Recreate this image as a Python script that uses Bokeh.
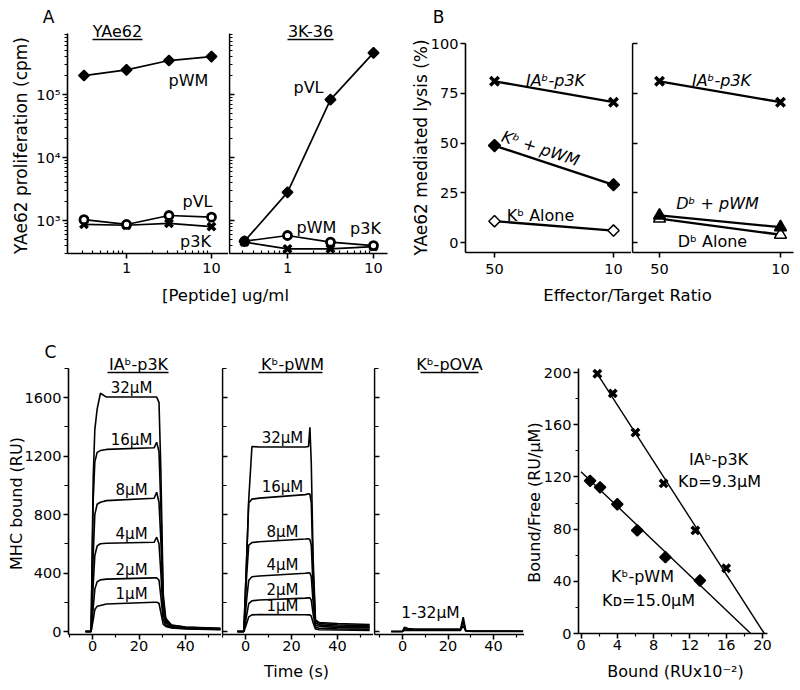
import math
from bokeh.plotting import figure
from bokeh.layouts import row, column
from bokeh.models import Range1d, FixedTicker, Label, LinearScale
from bokeh.embed import file_html
from bokeh.resources import INLINE

FONT = "DejaVu Sans"

# ---------------- Panel A : proliferation ----------------
pep_conc = [0.316, 1.0, 3.16, 10.0]
yae62_pwm = [2.0e5, 2.46e5, 3.46e5, 4.0e5]
yae62_pvl = [1030, 865, 1200, 1130]
yae62_p3k = [870, 840, 900, 800]
k336_pvl = [468, 2800, 8.3e4, 4.58e5]
k336_pwm = [468, 578, 453, 400]
k336_p3k = [453, 355, 355, 386]
a_yticks = [1e3, 1e4, 1e5]
a_ytick_labels = ["10³", "10⁴", "10⁵"]
a_xticks = [1, 10]
a_xtick_labels = ["1", "10"]

# ---------------- Panel B : lysis ----------------
et_ratios = ["50", "10"]
kb_ia_p3k = [81, 70.5]
kb_pwm = [48.7, 29]
kb_alone = [10.7, 6]
db_ia_p3k = [81, 70.5]
db_pwm = [13.6, 7.7]
db_alone = [12, 3.9]
b_yticks = [0, 25, 50, 75, 100]

# ---------------- Panel C : sensorgrams ----------------
conc_labels = ["32µM", "16µM", "8µM", "4µM", "2µM", "1µM"]
ia_time = [-3, -0.6, 0.3, 1, 2, 3.4, 6, 26.5, 27.6, 28.6, 29.4, 30.4, 31.5, 34, 40, 55]
ia_ru = [
    [0, 0, 1050, 1380, 1520, 1629, 1603, 1603, 1603, 1567, 1100, 260, 90, 45, 30, 22],
    [0, 0, 900, 1160, 1225, 1237, 1245, 1256, 1294, 1230, 850, 220, 80, 42, 28, 20],
    [0, 0, 520, 800, 870, 884, 895, 911, 952, 884, 620, 170, 70, 38, 25, 18],
    [0, 0, 320, 520, 585, 600, 603, 610, 645, 600, 400, 120, 60, 33, 22, 16],
    [0, 0, 160, 290, 340, 353, 358, 367, 367, 352, 240, 80, 45, 28, 20, 14],
    [0, 0, 80, 150, 172, 178, 188, 200, 200, 193, 130, 50, 35, 24, 17, 12],
]
ia_label_t = 16.8
ia_label_ru = [1603, 1250, 903, 605, 362, 195]

kb_time = [-3.5, -0.7, 0.5, 1.4, 2.8, 6, 26, 27.4, 28.0, 28.6, 29.4, 30.4, 32, 40, 54]
kb_ru = [
    [0, 0, 500, 900, 1265, 1262, 1262, 1265, 1397, 1150, 500, 80, 62, 55, 48],
    [0, 0, 500, 880, 905, 912, 936, 942, 940, 880, 420, 75, 55, 45, 40],
    [0, 0, 380, 590, 608, 614, 632, 634, 630, 590, 300, 60, 45, 36, 32],
    [0, 0, 220, 350, 374, 380, 398, 401, 400, 375, 200, 45, 35, 28, 25],
    [0, 0, 110, 190, 210, 215, 228, 230, 230, 215, 120, 30, 22, 18, 15],
    [0, 0, 55, 100, 114, 116, 115, 114, 114, 105, 60, 18, 12, 10, 8],
]
kb_label_t = 16.1
kb_label_ru = [1262, 925, 622, 390, 222, 116]

ova_time = [-5, 0, 0.8, 2.5, 5, 25.5, 26.7, 27.8, 31, 53]
ova_ru = [
    [0, 0, 29, 20, 16, 16, 98, 6, 3, 2],
    [0, 0, 18, 13, 11, 12, 70, 5, 2, 2],
    [0, 0, 8, 7, 7, 8, 40, 3, 1, 1],
]
c_yticks = [0, 400, 800, 1200, 1600]
c_yminor = [200, 600, 1000, 1400, 1800]
c_xticks = [0, 20, 40]
c_xminor = [-10, 10, 30, 50]

# ---------------- Scatchard ----------------
ia_bound = [1.8, 3.5, 6.0, 9.1, 12.6, 16.0]
ia_bf = [199, 184, 154, 115, 79, 50]
ia_fit_x = [1.8, 20.2]
ia_fit_y = [199, 0]
kbw_bound = [1.0, 2.1, 4.0, 6.2, 9.3, 13.1]
kbw_bf = [117, 112, 99, 79, 58.5, 40.6]
kbw_fit_x = [0, 18.7]
kbw_fit_y = [124, 0]
s_yticks = [0, 40, 80, 120, 160, 200]
s_yminor = [20, 60, 100, 140, 180]
s_xticks = [0, 4, 8, 12, 16, 20]
s_xminor = [2, 6, 10, 14, 18]


# ---------------- helpers ----------------
def lin(pa, va, pb, vb):
    k = (vb - va) / (pb - pa)
    return lambda p: va + (p - pa) * k


def logm(pa, va, pb, vb):
    f = lin(pa, math.log10(va), pb, math.log10(vb))
    return lambda p: 10 ** f(p)


def base_fig(x0, x1, y0, y1, xm, ym, xlog=False, ylog=False):
    """Canvas spans page pixels x0..x1, y0..y1 (top..bottom); frame = canvas."""
    p = figure(width=x1 - x0, height=y1 - y0,
               x_range=Range1d(xm(x0), xm(x1)), y_range=Range1d(ym(y1), ym(y0)),
               x_axis_type="log" if xlog else "linear",
               y_axis_type="log" if ylog else "linear",
               toolbar_location=None, output_backend="svg",
               min_border=0, min_border_left=0, min_border_right=0,
               min_border_top=0, min_border_bottom=0)
    p.extra_x_ranges = {"px": Range1d(x0, x1)}
    p.extra_y_ranges = {"px": Range1d(y1, y0)}
    p.extra_x_scales = {"px": LinearScale()}
    p.extra_y_scales = {"px": LinearScale()}
    p.outline_line_color = None
    p.xgrid.visible = False
    p.ygrid.visible = False
    p.background_fill_color = "white"
    p.border_fill_color = "white"
    return p


def style_axis(ax, ticks, minor=(), overrides=None, inward=False, standoff=3,
               bounds=None, minor_inward=False, tick_len=5, minor_len=3, loc=None):
    ax.ticker = FixedTicker(ticks=list(ticks), minor_ticks=list(minor))
    ax.axis_line_color = "black"
    ax.axis_line_width = 1.6
    ax.major_tick_line_color = "black"
    ax.major_tick_line_width = 1.6
    ax.minor_tick_line_color = "black"
    ax.minor_tick_line_width = 1.2
    if inward:
        ax.major_tick_in = tick_len
        ax.major_tick_out = 0
        ax.minor_tick_in = minor_len
        ax.minor_tick_out = 0
        ax.major_label_text_font_size = "0px"
        ax.major_label_standoff = 0
        ax.major_label_overrides = {t: "" for t in ticks}
    else:
        ax.major_tick_in = 0
        ax.major_tick_out = tick_len
        if minor_inward:
            ax.minor_tick_in = minor_len
            ax.minor_tick_out = 0
        else:
            ax.minor_tick_in = 0
            ax.minor_tick_out = minor_len
        ax.major_label_text_font = FONT
        ax.major_label_text_font_size = "14.5px"
        ax.major_label_text_color = "black"
        ax.major_label_standoff = standoff
        if overrides:
            ax.major_label_overrides = overrides
    if bounds is not None:
        ax.bounds = bounds
    if loc is not None:
        ax.fixed_location = loc


def txt(p, x, y, s, size=16, angle=0.0, italic=False, align="center",
        baseline="middle", px=True):
    kw = dict(x_range_name="px", y_range_name="px") if px else {}
    p.add_layout(Label(x=x, y=y, text=s, text_font=FONT,
                       text_font_size=f"{size}px", text_align=align,
                       text_baseline=baseline, angle=angle,
                       text_font_style="italic" if italic else "normal",
                       text_color="black", **kw))


def underline(p, x0, x1, y):
    p.segment(x0=[x0], y0=[y], x1=[x1], y1=[y], x_range_name="px",
              y_range_name="px", line_color="black", line_width=1.3)


def diamonds(p, x, y, size=7.5, fill="black"):
    p.scatter(x, y, marker="square", size=size, angle=math.pi / 4,
              fill_color=fill, line_color="black", line_width=1.5)


def crosses(p, x, y, size=11):
    p.scatter(x, y, marker="x", size=size, line_color="black", line_width=3.5)


def rings(p, x, y, size=8):
    p.scatter(x, y, marker="circle", size=size, fill_color="white",
              line_color="black", line_width=2.8)


def tris(p, x, y, size=12, fill="black"):
    p.scatter(x, y, marker="triangle", size=size, fill_color=fill,
              line_color="black", line_width=1.5)


LW = 1.7
all_log_minor = [m * 10 ** e for e in range(2, 6) for m in range(2, 10)]

# ================= Panel A =================
ay = logm(220, 1e3, 94, 1e5)
a1x = logm(126, 1, 211, 10)
a2x = logm(287, 1, 373, 10)
a_ybounds = (ay(253), ay(33))
a_yminor = [v for v in all_log_minor if a_ybounds[0] <= v <= a_ybounds[1]]
a_xminor = [m * 10 ** e for e in (-1, 0) for m in range(2, 10)]

fA1 = base_fig(0, 228, 0, 282, a1x, ay, xlog=True, ylog=True)
fA2 = base_fig(228, 390, 0, 282, a2x, ay, xlog=True, ylog=True)
for f, xm, xa, xb in ((fA1, a1x, 67, 228), (fA2, a2x, 229, 387)):
    style_axis(f.xaxis[0], a_xticks, [v for v in a_xminor if xm(xa) <= v <= xm(xb)],
               overrides=dict(zip(a_xticks, a_xtick_labels)), standoff=4,
               minor_inward=True, bounds=(xm(xa), xm(xb)), loc=ay(253))
style_axis(fA1.yaxis[0], a_yticks, a_yminor,
           overrides=dict(zip(a_yticks, a_ytick_labels)), standoff=2,
           bounds=a_ybounds, loc=a1x(67))
style_axis(fA2.yaxis[0], a_yticks, a_yminor, inward=True, bounds=a_ybounds,
           loc=a2x(229))

for ys in (yae62_pwm, yae62_pvl, yae62_p3k):
    fA1.line(pep_conc, ys, line_color="black", line_width=LW)
crosses(fA1, pep_conc, yae62_p3k, size=10.5)
rings(fA1, pep_conc, yae62_pvl)
diamonds(fA1, pep_conc, yae62_pwm)

for ys in (k336_pvl, k336_pwm, k336_p3k):
    fA2.line(pep_conc, ys, line_color="black", line_width=LW)
crosses(fA2, pep_conc, k336_p3k, size=10.5)
rings(fA2, pep_conc, k336_pwm)
diamonds(fA2, pep_conc, k336_pvl)

txt(fA1, 48, 16, "A", size=17)
txt(fA1, 117, 31, "YAe62", size=16)
underline(fA1, 92, 142, 39)
txt(fA1, 20, 145, "YAe62 proliferation (cpm)", size=17, angle=math.pi / 2)
txt(fA1, 188, 80, "pWM")
txt(fA1, 197, 201, "pVL")
txt(fA1, 195, 241, "p3K")
txt(fA2, 310, 31, "3K-36", size=16)
underline(fA2, 287, 333, 39)
txt(fA2, 308, 87, "pVL")
txt(fA2, 316, 227, "pWM")
txt(fA2, 365, 228, "p3K")

# ================= Panel B =================
by = lin(242, 0, 43, 100)
b1x = lin(494, 0, 613, 1)
b2x = lin(659, 0, 780, 1)
b_ybounds = (by(252), 100)
b_pos = list(range(len(et_ratios)))

fB1 = base_fig(390, 631, 0, 282, b1x, by)
fB2 = base_fig(631, 800, 0, 282, b2x, by)
for f, xm, xa, xb in ((fB1, b1x, 465, 631), (fB2, b2x, 632, 793)):
    style_axis(f.xaxis[0], b_pos, overrides=dict(zip(b_pos, et_ratios)), standoff=6,
               bounds=(xm(xa), xm(xb)), loc=by(252))
style_axis(fB1.yaxis[0], b_yticks, standoff=2, bounds=b_ybounds, loc=b1x(465))
style_axis(fB2.yaxis[0], b_yticks, inward=True, bounds=b_ybounds, loc=b2x(632))

BLW = 2.3
for ys in (kb_ia_p3k, kb_pwm, kb_alone):
    fB1.line(b_pos, ys, line_color="black", line_width=BLW)
crosses(fB1, b_pos, kb_ia_p3k, size=12)
diamonds(fB1, b_pos, kb_pwm, size=8.5)
diamonds(fB1, b_pos, kb_alone, size=8, fill="white")

for ys in (db_ia_p3k, db_alone, db_pwm):
    fB2.line(b_pos, ys, line_color="black", line_width=BLW)
crosses(fB2, b_pos, db_ia_p3k, size=12)
tris(fB2, b_pos, db_alone, fill="white")
tris(fB2, b_pos, db_pwm)

txt(fB1, 438, 16, "B", size=17)
txt(fB1, 420, 147, "YAe62 mediated lysis (%)", size=17, angle=math.pi / 2)
txt(fB1, 555, 80, "IAᵇ-p3K", italic=True)
txt(fB1, 540, 148, "Kᵇ + pWM", italic=True, angle=-0.32)
txt(fB1, 540, 215, "Kᵇ Alone")
txt(fB2, 721, 80, "IAᵇ-p3K", italic=True)
txt(fB2, 717, 203, "Dᵇ + pWM", italic=True)
txt(fB2, 712, 241, "Dᵇ Alone")

# ================= strip with shared x labels =================
strip = figure(width=800, height=28, x_range=Range1d(0, 800), y_range=Range1d(310, 282),
               toolbar_location=None, output_backend="svg", min_border=0,
               x_axis_location=None, y_axis_location=None)
strip.outline_line_color = None
strip.xgrid.visible = False
strip.ygrid.visible = False
for lab, xc in (("[Peptide] ug/ml", 225), ("Effector/Target Ratio", 627)):
    strip.add_layout(Label(x=xc, y=295, text=lab, text_font=FONT, text_font_size="16.5px",
                           text_align="center", text_baseline="middle", text_color="black"))

# ================= Panel C =================
cy = lin(631, 0, 397, 1600)
c1x = lin(92, 0, 185, 40)
c2x = lin(245, 0, 337, 40)
c3x = lin(402, 0, 493, 40)
c_ybounds = (cy(634), cy(368))

fC1 = base_fig(0, 221, 310, 690, c1x, cy)
fC2 = base_fig(221, 373, 310, 690, c2x, cy)
fC3 = base_fig(373, 524, 310, 690, c3x, cy)
for f, xm, xa, xb in ((fC1, c1x, 68, 221), (fC2, c2x, 222, 373), (fC3, c3x, 374, 525)):
    style_axis(f.xaxis[0], c_xticks, c_xminor, standoff=1, bounds=(xm(xa), xm(xb)),
               loc=cy(634))
style_axis(fC1.yaxis[0], c_yticks, c_yminor, standoff=2, bounds=c_ybounds, minor_len=4,
           loc=c1x(68))
style_axis(fC2.yaxis[0], c_yticks, c_yminor, inward=True, bounds=c_ybounds, minor_len=4,
           loc=c2x(222))
style_axis(fC3.yaxis[0], c_yticks, c_yminor, inward=True, bounds=c_ybounds, minor_len=4,
           loc=c3x(374))

CLW = 1.6
for ys in ia_ru:
    fC1.line(ia_time, ys, line_color="black", line_width=CLW)
for ys in kb_ru:
    fC2.line(kb_time, ys, line_color="black", line_width=CLW)
for ys in ova_ru:
    fC3.line(ova_time, ys, line_color="black", line_width=CLW)

for lab, yv in zip(conc_labels, ia_label_ru):
    txt(fC1, ia_label_t, yv, lab, size=15, baseline="bottom", px=False)
for lab, yv in zip(conc_labels, kb_label_ru):
    txt(fC2, kb_label_t, yv, lab, size=15, baseline="bottom", px=False)

txt(fC1, 50, 351, "C", size=17)
txt(fC1, 138, 364, "IAᵇ-p3K", size=16)
underline(fC1, 107, 168, 372)
txt(fC1, 16, 503, "MHC bound (RU)", size=16, angle=math.pi / 2)
txt(fC2, 292, 364, "Kᵇ-pWM", size=16)
underline(fC2, 258, 322, 372)
txt(fC2, 296, 671, "Time (s)", size=16)
txt(fC3, 449, 364, "Kᵇ-pOVA", size=16)
underline(fC3, 420, 478, 372)
txt(fC3, 430, 612, "1-32µM", size=15.5)

# ================= Scatchard =================
sy = lin(633, 0, 372, 200)
sx = lin(580.5, 0, 762, 20)
fS = base_fig(524, 800, 310, 690, sx, sy)
style_axis(fS.xaxis[0], s_xticks, s_xminor, standoff=1, bounds=(sx(578), sx(767)),
           loc=sy(633))
style_axis(fS.yaxis[0], s_yticks, s_yminor, standoff=2, bounds=(0, sy(368)),
           loc=sx(578))

fS.line(ia_fit_x, ia_fit_y, line_color="black", line_width=1.4)
fS.line(kbw_fit_x, kbw_fit_y, line_color="black", line_width=1.4)
crosses(fS, ia_bound, ia_bf, size=10.5)
diamonds(fS, kbw_bound, kbw_bf, size=8)

txt(fS, 534, 502, "Bound/Free (RU/µM)", size=16, angle=math.pi / 2)
txt(fS, 675, 671, "Bound (RUx10⁻²)", size=16)
txt(fS, 718, 459, "IAᵇ-p3K")
txt(fS, 719, 481, "Kᴅ=9.3µM")
txt(fS, 642, 576, "Kᵇ-pWM")
txt(fS, 648, 600, "Kᴅ=15.0µM")

top = row(fA1, fA2, fB1, fB2)
bottom = row(fC1, fC2, fC3, fS)
layout = column(top, strip, bottom)

open("out.html", "w").write(file_html(layout, INLINE))
